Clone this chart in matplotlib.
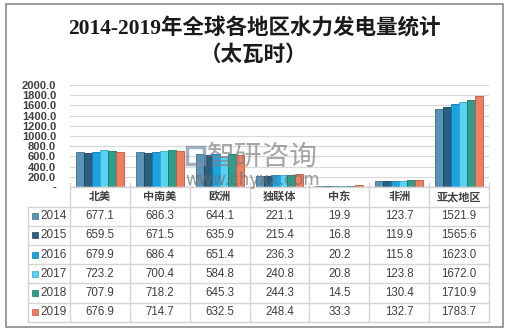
import numpy as np
import matplotlib
matplotlib.use("Agg")
import matplotlib.pyplot as plt
from matplotlib.patches import Rectangle

plt.rcParams['font.family'] = ['Noto Sans CJK SC', 'DejaVu Sans']

# ── data ──
regions = ["北美", "中南美", "欧洲", "独联体", "中东", "非洲", "亚太地区"]
years = ["2014", "2015", "2016", "2017", "2018", "2019"]
v2014 = [677.1, 686.3, 644.1, 221.1, 19.9, 123.7, 1521.9]
v2015 = [659.5, 671.5, 635.9, 215.4, 16.8, 119.9, 1565.6]
v2016 = [679.9, 686.4, 651.4, 236.3, 20.2, 115.8, 1623.0]
v2017 = [723.2, 700.4, 584.8, 240.8, 20.8, 123.8, 1672.0]
v2018 = [707.9, 718.2, 645.3, 244.3, 14.5, 130.4, 1710.9]
v2019 = [676.9, 714.7, 632.5, 248.4, 33.3, 132.7, 1783.7]
series = [v2014, v2015, v2016, v2017, v2018, v2019]
yticks = [0, 200, 400, 600, 800, 1000, 1200, 1400, 1600, 1800, 2000]

colors = ["#5B93B5", "#2B5F80", "#1CA3DF", "#58D2F2", "#2E9D8C", "#EF7F62"]
edges = ["#3E6E8C", "#1B4360", "#117AAE", "#35A8C8", "#1C7468", "#C0583E"]

W, H = 508, 333
fig = plt.figure(figsize=(W / 100, H / 100), dpi=100)

def fx(px):
    return px / W

def fy(py):
    return 1 - py / H

# ── bar axes ──
x_left, x_right = 70, 489
y_top, y_zero = 85, 187
ax = fig.add_axes([fx(x_left), fy(y_zero), fx(x_right - x_left), (y_zero - y_top) / H])
x = np.arange(len(regions))
bw = 0.8 / len(series)
for i, vals in enumerate(series):
    ax.bar(x - 0.4 + bw * (i + 0.5), vals, bw, color=colors[i],
           edgecolor=edges[i], linewidth=0.6, zorder=3)
ax.set_xlim(-0.5, len(regions) - 0.5)
ax.set_ylim(0, 2000)
ax.set_yticks(yticks)
ax.set_yticklabels(["-"] + [f"{t:.1f}" for t in yticks[1:]],
                   fontsize=8, fontweight="bold", color="#404040",
                   family=["Liberation Sans", "DejaVu Sans"])
ax.tick_params(axis="y", length=0, pad=10)
ax.set_xticks([])
ax.grid(axis="y", color="#D9D9D9", linewidth=0.9, zorder=0)
for s in ax.spines.values():
    s.set_visible(False)
ax.axhline(0, color="#D0D0D0", linewidth=1, zorder=4)

# ── overlay axes in pixel coords for table, title, frame ──
ov = fig.add_axes([0, 0, 1, 1], zorder=5)
ov.set_xlim(0, W)
ov.set_ylim(H, 0)
ov.axis("off")
ov.patch.set_alpha(0)

# outer frame
ov.add_patch(Rectangle((6, 4), 497, 323, fill=False, edgecolor="#8C8C8C", linewidth=1.2))

# title
title_font = ["Liberation Serif", "Noto Sans CJK SC"]
ov.text(254, 28, "2014-2019年全球各地区水力发电量统计", ha="center", va="center",
        fontsize=15.5, fontweight="bold", color="#1A1A1A", family=title_font)
ov.text(254, 55, "（太瓦时）", ha="center", va="center",
        fontsize=15.5, fontweight="bold", color="#1A1A1A", family=title_font)

# watermark
ov.text(207, 157, "智研咨询", ha="left", va="center", fontsize=20,
        color="#808080", alpha=0.7)
ov.add_patch(Rectangle((187, 147), 17, 17, fill=False, edgecolor="#7A8FA8",
                       linewidth=2.5, alpha=0.7))
ov.text(185, 180, "www.chyxx.com", ha="left", va="center", fontsize=12,
        color="#707070", alpha=0.7, family=["DejaVu Sans"])

# table
cw = (x_right - x_left) / len(regions)
tab_left = 28
row_top = 187
hdr_h = 19.5
row_h = 19.2
line_c = "#D4D4D4"
n_rows = len(years)
bottom = row_top + hdr_h + n_rows * row_h
# horizontal lines
ov.plot([x_left, x_right], [row_top, row_top], color=line_c, lw=1)
for r in range(n_rows + 1):
    yy = row_top + hdr_h + r * row_h
    ov.plot([tab_left, x_right], [yy, yy], color=line_c, lw=1)
# vertical lines
ov.plot([tab_left, tab_left], [row_top + hdr_h, bottom], color=line_c, lw=1)
for c in range(len(regions) + 1):
    xx = x_left + c * cw
    ov.plot([xx, xx], [row_top, bottom], color=line_c, lw=1)
    ov.plot([xx, xx], [row_top - 4, row_top], color=line_c, lw=1)

# header labels
for c, name in enumerate(regions):
    ov.text(x_left + (c + 0.5) * cw, row_top + hdr_h / 2, name, ha="center",
            va="center", fontsize=8, fontweight="bold", color="#404040")

# rows
for r, yr in enumerate(years):
    yc = row_top + hdr_h + (r + 0.5) * row_h
    ov.add_patch(Rectangle((32, yc - 3), 6, 6, facecolor=colors[r],
                           edgecolor=edges[r], linewidth=0.5))
    ov.text(40, yc, yr, ha="left", va="center", fontsize=8.5, color="#404040",
            family=["Liberation Sans", "DejaVu Sans"])
    for c in range(len(regions)):
        ov.text(x_left + (c + 0.5) * cw, yc, f"{series[r][c]:.1f}", ha="center",
                va="center", fontsize=8.3, color="#404040",
                family=["Liberation Sans", "DejaVu Sans"])

fig.savefig("out.png", dpi=100)
